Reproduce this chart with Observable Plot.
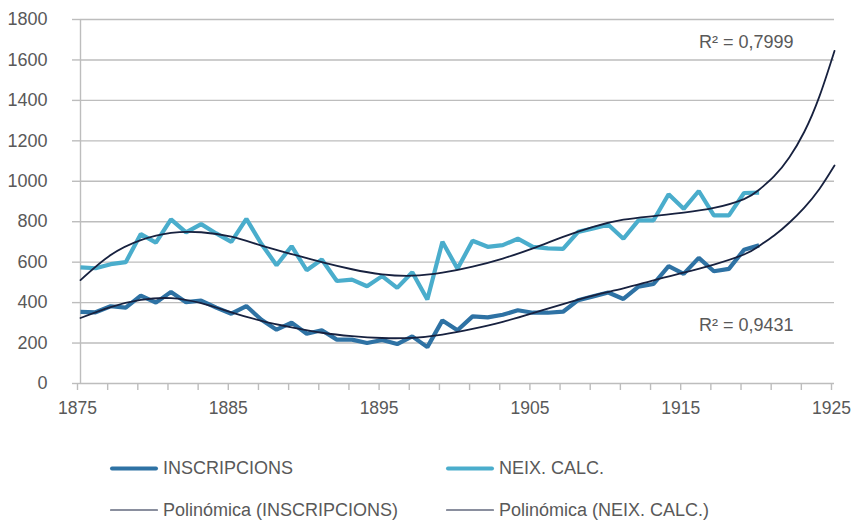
<!DOCTYPE html>
<html>
<head>
<meta charset="utf-8">
<script src="https://cdn.jsdelivr.net/npm/d3@7"></script>
<script src="https://cdn.jsdelivr.net/npm/@observablehq/plot@0.6"></script>
<style>
  body { margin: 0; background: #fff; font-family: "Liberation Sans", Arial, Helvetica, sans-serif; }
  #wrap { position: relative; width: 852px; height: 523px; }
  .leg { position: absolute; display: flex; align-items: center; font-size: 18px; color: #595959; white-space: nowrap; transform: translateY(-50%); }
  .leg span.sw { display: inline-block; width: 48px; margin-right: 5px; border-radius: 2px; }
</style>
</head>
<body>
<div id="wrap"><div id="chart"></div></div>
<script>
const years = d3.range(1875, 1921);
const inscripcions = [354,352,382,375,435,400,453,402,410,375,345,383,315,266,301,246,263,217,217,200,215,195,233,180,312,263,332,327,340,362,350,350,355,412,431,450,418,479,492,580,542,621,555,567,661,683];
const neix = [574,570,590,600,739,697,812,747,788,742,700,814,690,585,679,560,613,507,514,481,531,473,550,415,701,567,706,676,684,716,676,668,666,750,767,785,716,807,807,936,864,952,831,831,942,944];

const trendYears = [1875,1877,1879,1881,1883,1885,1887,1889,1891,1893,1895,1897,1899,1901,1903,1905,1907,1909,1911,1913,1915,1917,1919,1920,1921,1922,1923,1924,1925];
const trendInscripcions = [324,378,413,422,397,352,310,278,251,234,225,226,242,270,305,348,393,435,470,510,548,588,638,680,732,795,870,962,1078];
const trendNeix = [511,635,709,745,748,726,682,640,600,565,540,533,548,578,618,668,725,775,810,828,845,868,912,958,1025,1118,1245,1420,1645];

const yTicks = d3.range(0, 1801, 200);
const xTicks = d3.range(1875, 1926, 2);
const xLabels = [1875, 1885, 1895, 1905, 1915, 1925];
const r2Labels = ["R² = 0,7999", "R² = 0,9431"];
const seriesNames = ["INSCRIPCIONS", "NEIX. CALC.", "Polinómica (INSCRIPCIONS)", "Polinómica (NEIX. CALC.)"];

const cInsc = "#2e72a4", cNeix = "#4aadcc", cTrend = "#17213f", grid = "#bdbdbd", txt = "#595959";

const dInsc = years.map((y, i) => ({year: y, value: inscripcions[i]}));
const dNeix = years.map((y, i) => ({year: y, value: neix[i]}));
const tInsc = trendYears.map((y, i) => ({year: y, value: trendInscripcions[i]}));
const tNeix = trendYears.map((y, i) => ({year: y, value: trendNeix[i]}));

const chart = Plot.plot({
  width: 852,
  height: 430,
  marginLeft: 80,
  marginRight: 18,
  marginTop: 19,
  marginBottom: 47,
  style: {fontFamily: '"Liberation Sans", Arial, Helvetica, sans-serif', fontSize: "18px", color: txt, background: "#fff"},
  x: {domain: [1875, 1925]},
  y: {domain: [0, 1800]},
  marks: [
    Plot.gridY(yTicks, {stroke: grid, strokeOpacity: 1, strokeWidth: 1.4}),
    Plot.axisY(yTicks, {tickSize: 8, tickPadding: 25, stroke: grid, strokeOpacity: 1, strokeWidth: 1.4, fill: txt, label: null, fontSize: 18,
      tickFormat: d => String(d)}),
    Plot.ruleX([1875], {stroke: grid, strokeWidth: 1.4}),
    Plot.axisX(xTicks, {tickSize: 7, tickPadding: 11, stroke: grid, strokeOpacity: 1, strokeWidth: 1.4, fill: txt, label: null, fontSize: 17.5, dx: -3,
      tickFormat: d => xLabels.includes(d) ? String(d) : ""}),
    Plot.line(dInsc, {x: "year", y: "value", stroke: cInsc, strokeWidth: 4.2, strokeLinejoin: "miter", strokeLinecap: "butt"}),
    Plot.line(dNeix, {x: "year", y: "value", stroke: cNeix, strokeWidth: 4.2, strokeLinejoin: "miter", strokeLinecap: "butt"}),
    Plot.line(tInsc, {x: "year", y: "value", stroke: cTrend, strokeWidth: 1.8, curve: "natural"}),
    Plot.line(tNeix, {x: "year", y: "value", stroke: cTrend, strokeWidth: 1.8, curve: "natural"}),
    Plot.text([r2Labels[0]], {text: d => d, frameAnchor: "top-right", dx: -41, dy: 23, textAnchor: "end", lineAnchor: "middle", fill: txt, fontSize: 18}),
    Plot.text([r2Labels[1]], {text: d => d, frameAnchor: "top-right", dx: -41, dy: 306, textAnchor: "end", lineAnchor: "middle", fill: txt, fontSize: 18})
  ]
});
document.getElementById("chart").appendChild(chart);

const legendItems = [
  {name: seriesNames[0], color: cInsc, w: 4, left: 110, top: 468},
  {name: seriesNames[1], color: cNeix, w: 4, left: 446, top: 468},
  {name: seriesNames[2], color: cTrend, w: 1.8, left: 110, top: 510},
  {name: seriesNames[3], color: cTrend, w: 1.8, left: 446, top: 510}
];
const wrap = document.getElementById("wrap");
for (const it of legendItems) {
  const div = document.createElement("div");
  div.className = "leg";
  div.style.left = it.left + "px";
  div.style.top = it.top + "px";
  const sw = document.createElement("span");
  sw.className = "sw";
  sw.style.height = it.w + "px";
  sw.style.background = it.color;
  div.appendChild(sw);
  div.appendChild(document.createTextNode(it.name));
  wrap.appendChild(div);
}
</script>
</body>
</html>
